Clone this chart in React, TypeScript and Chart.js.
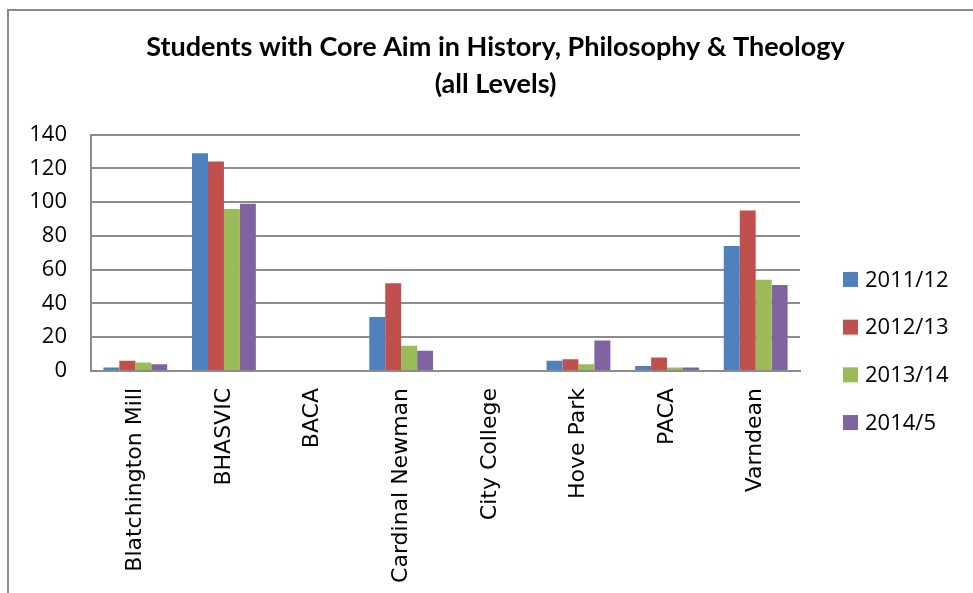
import React, { useEffect, useRef } from "react";
import { Chart, registerables } from "chart.js";

Chart.register(...registerables);

const categories = [
  "Blatchington Mill",
  "BHASVIC",
  "BACA",
  "Cardinal Newman",
  "City College",
  "Hove Park",
  "PACA",
  "Varndean",
];
const seriesLabels = ["2011/12", "2012/13", "2013/14", "2014/5"];
const values2011 = [2, 129, 0, 32, 0, 6, 3, 74];
const values2012 = [6, 124, 0, 52, 0, 7, 8, 95];
const values2013 = [5, 96, 0, 15, 0, 4, 2, 54];
const values2014 = [4, 99, 0, 12, 0, 18, 2, 51];
const seriesColors = ["#4F81BD", "#C0504D", "#9BBB59", "#8064A2"];
const titleLines = ["Students with Core Aim in History, Philosophy & Theology", "(all Levels)"];

const labelFont = "'Open Sans', 'Liberation Sans', sans-serif";

const sideLegend = {
  id: "sideLegend",
  afterDraw(chart: any) {
    const { ctx, chartArea } = chart;
    const ds = chart.data.datasets;
    const spacing = 47.7;
    const centerY = chartArea.bottom - 20;
    const startY = centerY - (spacing * (ds.length - 1)) / 2;
    const boxX = chartArea.right + 43;
    ctx.save();
    ctx.font = `22px ${labelFont}`;
    ctx.textBaseline = "middle";
    ctx.textAlign = "left";
    ds.forEach((d: any, i: number) => {
      const y = startY + i * spacing;
      ctx.fillStyle = d.backgroundColor;
      ctx.fillRect(boxX, y - 7.5, 15, 15);
      ctx.fillStyle = "#000";
      ctx.fillText(d.label, boxX + 22, y + 1);
    });
    ctx.restore();
  },
};

export default function App() {
  const ref = useRef<HTMLCanvasElement>(null);
  useEffect(() => {
    if (!ref.current) return;
    const data = [values2011, values2012, values2013, values2014];
    const chart = new Chart(ref.current, {
      type: "bar",
      data: {
        labels: categories,
        datasets: seriesLabels.map((label, i) => ({
          label,
          data: data[i],
          backgroundColor: seriesColors[i],
          borderWidth: 0,
          categoryPercentage: 0.72,
          barPercentage: 1,
          yAxisID: "y",
        })),
      },
      options: {
        responsive: false,
        animation: false,
        layout: { padding: { left: 18, right: 0, top: 0, bottom: 0 } },
        plugins: {
          legend: { display: false },
          tooltip: { enabled: false },
          title: {
            display: true,
            text: titleLines,
            color: "#000",
            font: { family: "Lato, 'Open Sans', sans-serif", size: 27, weight: "bold", lineHeight: 1.4 },
            padding: { top: 28, bottom: 31 },
          },
        },
        scales: {
          x: {
            grid: { display: false, drawTicks: false },
            border: { display: true, color: "#8c8c8c", width: 2 },
            ticks: {
              minRotation: 90,
              maxRotation: 90,
              autoSkip: false,
              padding: 17,
              color: "#000",
              font: { family: "'DejaVu Sans', Verdana, sans-serif", size: 22 },
            },
            afterFit(scale: any) {
              scale.height = 222;
            },
          },
          y: {
            min: 0,
            max: 140,
            ticks: {
              stepSize: 20,
              padding: 24,
              color: "#000",
              font: { family: labelFont, size: 22 },
            },
            grid: { color: "#8c8c8c", lineWidth: 2, drawTicks: false },
            border: { display: true, color: "#8c8c8c", width: 2 },
            afterFit(scale: any) {
              scale.width = 73;
            },
          },
          yRight: {
            position: "right",
            display: true,
            grid: { display: false, drawTicks: false },
            border: { display: false },
            ticks: { display: false },
            afterFit(scale: any) {
              scale.width = 173;
            },
          },
        },
      },
      plugins: [sideLegend],
    } as any);
    return () => chart.destroy();
  }, []);
  return (
    <div style={{ position: "fixed", left: 0, top: 0, width: 973, height: 593, background: "#fff", overflow: "hidden" }}>
      <div
        style={{
          position: "absolute",
          left: 7,
          top: 9,
          width: 1000,
          height: 700,
          borderLeft: "2px solid #8c8c8c",
          borderTop: "2px solid #8c8c8c",
        }}
      />
      <canvas ref={ref} width={973} height={593} style={{ position: "absolute", left: 0, top: 0, display: "block" }} />
    </div>
  );
}
